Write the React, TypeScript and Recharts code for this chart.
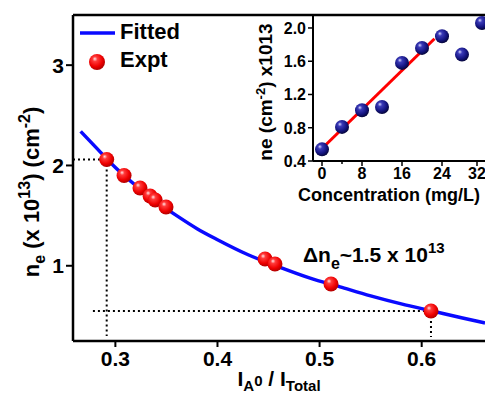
import React from 'react';
import { ComposedChart, Line, Scatter, XAxis, YAxis, ReferenceLine, ReferenceDot, Label } from 'recharts';

// main panel: fitted curve + experimental points
const fitRatio = [0.266, 0.28, 0.3, 0.32, 0.34, 0.36, 0.38, 0.4, 0.43, 0.46, 0.49, 0.52, 0.55, 0.58, 0.61, 0.64, 0.662];
const fitNe = [2.34, 2.19, 1.98, 1.8, 1.64, 1.5, 1.37, 1.26, 1.11, 0.99, 0.88, 0.79, 0.7, 0.62, 0.55, 0.48, 0.43];
const exptRatio = [0.2915, 0.3085, 0.3241, 0.334, 0.339, 0.3496, 0.4466, 0.4563, 0.5112, 0.6091];
const exptNe = [2.06, 1.9, 1.775, 1.696, 1.656, 1.586, 1.068, 1.018, 0.818, 0.549];
const mainXTicks = [0.3, 0.4, 0.5, 0.6];
const mainYTicks = [1, 2, 3];

// inset: ne vs concentration
const concentration = [0, 4, 8, 12, 16, 20, 24, 28, 32];
const insetNe = [0.54, 0.81, 1.01, 1.05, 1.58, 1.76, 1.9, 1.68, 2.06];
const insetFitConc = [0, 22.5];
const insetFitNe = [0.55, 1.87];
const insetYTicks = [0.4, 0.6, 0.8, 1.0, 1.2, 1.4, 1.6, 1.8, 2.0];
const insetXTicks = [0, 4, 8, 12, 16, 20, 24, 28, 32];

const fitData = fitRatio.map((x, i) => ({ x, y: fitNe[i] }));
const exptData = exptRatio.map((x, i) => ({ x, y: exptNe[i] }));
const insetData = concentration.map((x, i) => ({ x, y: insetNe[i] }));
const insetFitData = insetFitConc.map((x, i) => ({ x, y: insetFitNe[i] }));

const FONT = '"Liberation Sans", Arial, sans-serif';
const dotted = { stroke: '#000', strokeWidth: 2, strokeDasharray: '2 3' };

const RedBall = (p: any) => <circle cx={p.cx} cy={p.cy} r={7.5} fill="url(#redBall)" />;
const NavyBall = (p: any) => <circle cx={p.cx} cy={p.cy} r={7} fill="url(#navyBall)" />;

const LegendBox = () => (
  <svg width={130} height={60} style={{ fontFamily: FONT, position: 'absolute', left: 78, top: 18 }}>
    <line x1={2} x2={37} y1={15} y2={15} stroke="#0a0aff" strokeWidth={3.5} />
    <text x={42} y={21} fontSize={22} fontWeight="bold">Fitted</text>
    <circle cx={19} cy={44} r={8} fill="url(#redBall)" />
    <text x={42} y={49} fontSize={22} fontWeight="bold">Expt</text>
  </svg>
);

const MainXLabel = (props: any) => {
  const { x, y, width } = props.viewBox;
  return (
    <text x={x + width / 2} y={y + 45} textAnchor="middle" fontSize={21} fontWeight="bold" fill="#000">
      <tspan>I</tspan>
      <tspan fontSize={15} dy={5}>A</tspan>
      <tspan fontSize={15} dy={-5}>0</tspan>
      <tspan> / I</tspan>
      <tspan fontSize={15} dy={5}>Total</tspan>
    </text>
  );
};

const MainYLabel = () => (
  <text x={0} y={0} transform="translate(39,192) rotate(-90)" textAnchor="middle" fontSize={22} fontWeight="bold" fill="#000">
    <tspan>n</tspan>
    <tspan fontSize={16} dy={6}>e</tspan>
    <tspan dy={-6}> (x 10</tspan>
    <tspan fontSize={16} dy={-9}>13</tspan>
    <tspan dy={9}>) (cm</tspan>
    <tspan fontSize={16} dy={-9}>-2</tspan>
    <tspan dy={9}>)</tspan>
  </text>
);

const Annotation = (props: any) => {
  const { x, y } = props.viewBox;
  return (
    <text x={x} y={y} fontSize={21} fontWeight="bold" fill="#000">
      <tspan>Δn</tspan>
      <tspan fontSize={16} dy={7}>e</tspan>
      <tspan dy={-7}>~1.5 x 10</tspan>
      <tspan fontSize={15} dy={-9}>13</tspan>
    </text>
  );
};

const InsetYTick = (p: any) => {
  const v = p.payload.value;
  const major = Math.round(v * 10) % 4 === 0;
  return (
    <g>
      <line x1={p.x} x2={p.x - (major ? 5 : 3)} y1={p.y} y2={p.y} stroke="#000" strokeWidth={1.5} />
      {major && (
        <text x={p.x - 7} y={p.y + 6} textAnchor="end" fontSize={16} fontWeight="bold" fill="#000">
          {v.toFixed(1)}
        </text>
      )}
    </g>
  );
};

const InsetXTick = (p: any) => {
  const v = p.payload.value;
  const major = v % 8 === 0;
  return (
    <g>
      <line x1={p.x} x2={p.x} y1={p.y} y2={p.y + (major ? 5 : 3)} stroke="#000" strokeWidth={1.5} />
      {major && (
        <text x={p.x} y={p.y + 18} textAnchor="middle" fontSize={16} fontWeight="bold" fill="#000">
          {v}
        </text>
      )}
    </g>
  );
};

const InsetXLabel = (props: any) => {
  const { x, y, width } = props.viewBox;
  return (
    <text x={x + width / 2 - 10} y={y + 40} textAnchor="middle" fontSize={18} fontWeight="bold" fill="#000">
      Concentration (mg/L)
    </text>
  );
};

const InsetYLabel = () => (
  <text x={0} y={0} transform="translate(22,92) rotate(-90)" textAnchor="middle" fontSize={19} fontWeight="bold" fill="#000">
    <tspan>ne (cm</tspan>
    <tspan fontSize={13} dy={-7}>-2</tspan>
    <tspan dy={7}>) x1013</tspan>
  </text>
);

export default function App() {
  return (
    <div style={{ position: 'absolute', left: 0, top: 0, width: 485, height: 394, background: '#fff', fontFamily: FONT, overflow: 'hidden' }}>
      <ComposedChart width={485} height={394} margin={{ top: 15, right: 0, left: 0, bottom: 0 }}>
        <defs>
          <radialGradient id="redBall" cx="0.42" cy="0.38" r="0.62" fx="0.36" fy="0.3">
            <stop offset="0" stopColor="#ffe6e6" />
            <stop offset="0.25" stopColor="#ff3a3a" />
            <stop offset="0.7" stopColor="#ee0000" />
            <stop offset="1" stopColor="#b00000" />
          </radialGradient>
          <radialGradient id="navyBall" cx="0.42" cy="0.38" r="0.62" fx="0.34" fy="0.3">
            <stop offset="0" stopColor="#d8d8ff" />
            <stop offset="0.25" stopColor="#3a3ab8" />
            <stop offset="0.7" stopColor="#141480" />
            <stop offset="1" stopColor="#05053a" />
          </radialGradient>
        </defs>
        <XAxis
          type="number"
          dataKey="x"
          domain={[0.2585, 0.662]}
          ticks={mainXTicks}
          allowDataOverflow
          height={53}
          axisLine={{ stroke: '#000', strokeWidth: 2.5 }}
          tickLine={{ stroke: '#000', strokeWidth: 2 }}
          tickSize={6}
          tickMargin={4}
          tick={{ fill: '#000', fontSize: 21, fontWeight: 'bold' }}
          tickFormatter={(v: number) => v.toFixed(1)}
          label={<Label content={MainXLabel} />}
        />
        <YAxis
          type="number"
          dataKey="y"
          domain={[0.25, 3.5]}
          ticks={mainYTicks}
          allowDataOverflow
          width={73}
          axisLine={{ stroke: '#000', strokeWidth: 2.5 }}
          tickLine={{ stroke: '#000', strokeWidth: 2 }}
          tickSize={7}
          tickMargin={2}
          tick={{ fill: '#000', fontSize: 21, fontWeight: 'bold' }}
          label={<Label content={MainYLabel} />}
        />
        <ReferenceLine y={3.5} stroke="#000" strokeWidth={2.5} ifOverflow="visible" />
        <ReferenceLine segment={[{ x: 0.2585, y: 2.06 }, { x: 0.2915, y: 2.06 }]} {...dotted} />
        <ReferenceLine segment={[{ x: 0.2915, y: 2.06 }, { x: 0.2915, y: 0.3 }]} {...dotted} />
        <ReferenceLine segment={[{ x: 0.278, y: 0.549 }, { x: 0.6091, y: 0.549 }]} {...dotted} />
        <ReferenceLine segment={[{ x: 0.6091, y: 0.549 }, { x: 0.6091, y: 0.29 }]} {...dotted} />
        <Line data={fitData} dataKey="y" type="monotone" stroke="#0a0aff" strokeWidth={3.5} dot={false} isAnimationActive={false} />
        <Scatter data={exptData} dataKey="y" shape={RedBall} isAnimationActive={false} />
        <ReferenceDot x={0.4847} y={1.028} r={1} fill="none" stroke="none" label={<Label content={Annotation} />} />
      </ComposedChart>

      <LegendBox />

      <div style={{ position: 'absolute', left: 250, top: 0 }}>
        <ComposedChart width={235} height={205} margin={{ top: 15, right: 0, left: 0, bottom: 0 }}>
          <XAxis
            type="number"
            dataKey="x"
            domain={[-1.8, 32.6]}
            ticks={insetXTicks}
            allowDataOverflow
            height={44}
            axisLine={{ stroke: '#000', strokeWidth: 2 }}
            tickLine={false}
            tickSize={0}
            tickMargin={0}
            tick={InsetXTick}
            label={<Label content={InsetXLabel} />}
          />
          <YAxis
            type="number"
            dataKey="y"
            domain={[0.4, 2.156]}
            ticks={insetYTicks}
            allowDataOverflow
            width={63}
            axisLine={{ stroke: '#000', strokeWidth: 2 }}
            tickLine={false}
            tickSize={0}
            tickMargin={0}
            tick={InsetYTick}
            label={<Label content={InsetYLabel} />}
          />
          <Line data={insetFitData} dataKey="y" type="linear" stroke="#ff0000" strokeWidth={3} dot={false} isAnimationActive={false} />
          <Scatter data={insetData} dataKey="y" shape={NavyBall} isAnimationActive={false} />
        </ComposedChart>
      </div>
    </div>
  );
}
